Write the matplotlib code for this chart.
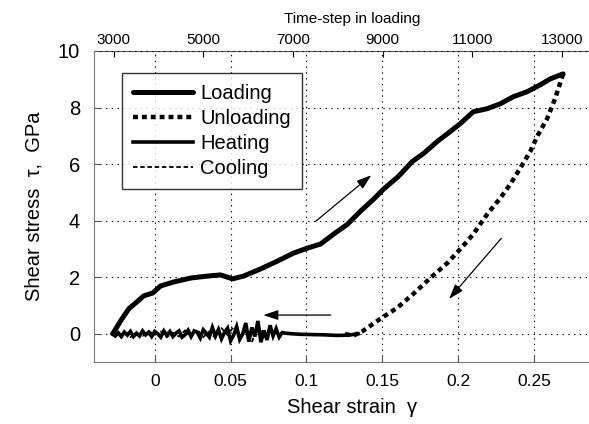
import numpy as np
import matplotlib
matplotlib.use("Agg")
import matplotlib.pyplot as plt

plt.rcParams['font.family'] = ['Liberation Sans', 'DejaVu Sans']

# loading branch (strain, stress GPa)
load_strain = [-0.0276, -0.0224, -0.0171, -0.0125, -0.0072, -0.0013, 0.0039, 0.0125,
               0.0237, 0.0349, 0.0434, 0.0513, 0.0586, 0.0697, 0.0809, 0.0914, 0.1007,
               0.1092, 0.1178, 0.127, 0.1355, 0.1441, 0.1507, 0.1605, 0.1697, 0.177,
               0.1862, 0.1947, 0.2013, 0.2099, 0.2191, 0.2276, 0.2362, 0.2454, 0.2539,
               0.2605, 0.2691]
load_stress = [0.0, 0.46, 0.88, 1.09, 1.34, 1.44, 1.69, 1.83,
               1.97, 2.04, 2.08, 1.94, 2.04, 2.29, 2.57, 2.85, 3.03,
               3.17, 3.52, 3.87, 4.33, 4.75, 5.11, 5.56, 6.09, 6.37,
               6.80, 7.15, 7.43, 7.85, 7.96, 8.13, 8.38, 8.56, 8.80,
               9.01, 9.19]

# unloading branch
unload_strain = [0.2691, 0.2638, 0.2586, 0.2526, 0.2474, 0.2408, 0.2342, 0.2276, 0.2191,
                 0.2099, 0.2013, 0.1928, 0.1816, 0.1704, 0.1599, 0.1487, 0.1375, 0.1309,
                 0.1243]
unload_stress = [9.19, 8.31, 7.61, 7.04, 6.44, 5.85, 5.28, 4.79, 4.23,
                 3.52, 2.99, 2.50, 1.97, 1.41, 0.92, 0.53, 0.11, -0.07,
                 0.0]

# heating branch (strain recovery at zero stress)
heat_strain = [0.134, 0.128, 0.12, 0.112, 0.104, 0.096, 0.09, 0.086,
               0.084, 0.082, 0.080, 0.078, 0.076, 0.074, 0.072, 0.070, 0.068, 0.066,
               0.064, 0.062, 0.060, 0.058, 0.056, 0.054, 0.052, 0.050, 0.048, 0.046,
               0.044, 0.042, 0.040, 0.038, 0.036, 0.034, 0.032, 0.030, 0.028, 0.026,
               0.024, 0.022, 0.020, 0.018, 0.016, 0.014, 0.012, 0.010, 0.008, 0.006,
               0.004, 0.002, 0.000, -0.002, -0.004, -0.006, -0.008, -0.010, -0.012,
               -0.014, -0.016, -0.018, -0.020, -0.022, -0.024, -0.026, -0.028]
heat_stress = [0.0, -0.05, -0.06, -0.04, -0.03, -0.02, 0.0, 0.02,
               0.04, -0.12, 0.18, -0.08, 0.3, -0.22, 0.12, -0.3, 0.45, -0.1,
               0.22, -0.28, 0.38, 0.0, -0.2, 0.25, -0.05, -0.25, 0.2, 0.05,
               -0.18, 0.15, -0.08, 0.22, -0.12, 0.02, 0.14, -0.15, 0.05, 0.1,
               -0.1, 0.12, -0.04, -0.12, 0.1, 0.02, -0.1, 0.08, -0.06, 0.1,
               -0.12, 0.0, 0.08, -0.1, 0.05, -0.04, 0.1, -0.08, 0.02,
               -0.1, 0.08, -0.05, 0.06, -0.1, 0.03, -0.08, 0.0]

# cooling branch
cool_strain = [-0.028, -0.024, -0.020, -0.016, -0.012, -0.008, -0.004, 0.000, 0.004,
               0.008, 0.012, 0.016, 0.020, 0.024, 0.028, 0.032, 0.036, 0.040, 0.044,
               0.048, 0.052, 0.056, 0.060, 0.064, 0.068, 0.072]
cool_stress = [0.0, -0.1, 0.06, -0.12, 0.02, -0.08, 0.1, -0.04, 0.08,
               -0.12, 0.04, -0.1, 0.12, -0.06, 0.15, -0.12, 0.08, -0.15, 0.2,
               -0.05, 0.25, -0.2, 0.1, -0.3, 0.3, -0.15]

x_ticks = [0, 0.05, 0.1, 0.15, 0.2, 0.25]
x_ticklabels = ['0', '0.05', '0.1', '0.15', '0.2', '0.25']
y_ticks = [0, 2, 4, 6, 8, 10]
top_ticks = [3000, 5000, 7000, 9000, 11000, 13000]

# time step <-> strain anchors for the top axis
t0, s0 = 3000, -0.027
t1, s1 = 13000, 0.2684


def s2t(s):
    return t0 + (np.asarray(s) - s0) * (t1 - t0) / (s1 - s0)


def t2s(t):
    return s0 + (np.asarray(t) - t0) * (s1 - s0) / (t1 - t0)


fig = plt.figure(figsize=(5.89, 4.24), dpi=100)
ax = fig.add_axes([94 / 589, 62 / 424, (610 - 94) / 589, (362 - 51) / 424])

ax.plot(load_strain, load_stress, color='black', lw=3.6, solid_capstyle='round',
        solid_joinstyle='round', label='Loading')
ax.plot(unload_strain, unload_stress, color='black', lw=3.2, linestyle=(0, (1.1, 0.9)),
        dash_capstyle='butt', label='Unloading')
ax.plot(heat_strain, heat_stress, color='black', lw=2.6, solid_joinstyle='miter',
        label='Heating')
ax.plot(cool_strain, cool_stress, color='black', lw=1.3, linestyle=(0, (2.5, 1.5)),
        label='Cooling')

ax.set_xlim(-0.04, 0.3)
ax.set_ylim(-1, 10)
ax.set_xticks(x_ticks)
ax.set_xticklabels(x_ticklabels)
ax.set_yticks(y_ticks)
ax.tick_params(axis='x', direction='in', length=4, labelsize=12.5, pad=9, color='#555555')
ax.tick_params(axis='y', direction='in', length=4, labelsize=14.5, pad=10, color='#555555')
ax.grid(True, color='black', lw=0.8, linestyle=(0, (1.2, 4)))
for side in ['left', 'bottom']:
    ax.spines[side].set_color('#777777')
ax.spines['top'].set_visible(False)
ax.spines['right'].set_visible(False)

ax.set_xlabel('Shear strain  γ', fontsize=14.5, labelpad=6)
ax.set_ylabel('Shear stress  τ,  GPa', fontsize=14.5, labelpad=10)

top = ax.secondary_xaxis('top', functions=(s2t, t2s))
top.set_xticks(top_ticks)
top.tick_params(direction='in', length=4, labelsize=11, pad=3)
top.spines['top'].set_color('#555555')
top.spines['top'].set_linestyle((0, (3, 1)))
top.set_xlabel('Time-step in loading', fontsize=11, labelpad=7)

leg = ax.legend(loc='upper left', bbox_to_anchor=(0.054, 0.93), fontsize=14.5,
                frameon=True, fancybox=False, edgecolor='black', handlelength=3.0,
                handletextpad=0.35, labelspacing=0.3, borderpad=0.55, borderaxespad=0)
leg.get_frame().set_linewidth(1.0)

arrow_kw = dict(arrowstyle='-|>,head_length=0.9,head_width=0.3', color='black', lw=0.9)
ax.annotate('', xy=(0.1441, 5.67), xytext=(0.1046, 3.91), arrowprops=arrow_kw)
ax.annotate('', xy=(0.1928, 1.16), xytext=(0.2296, 3.45), arrowprops=arrow_kw)
ax.annotate('', xy=(0.0697, 0.66), xytext=(0.1178, 0.66), arrowprops=arrow_kw)

fig.savefig('out.png', dpi=100)
